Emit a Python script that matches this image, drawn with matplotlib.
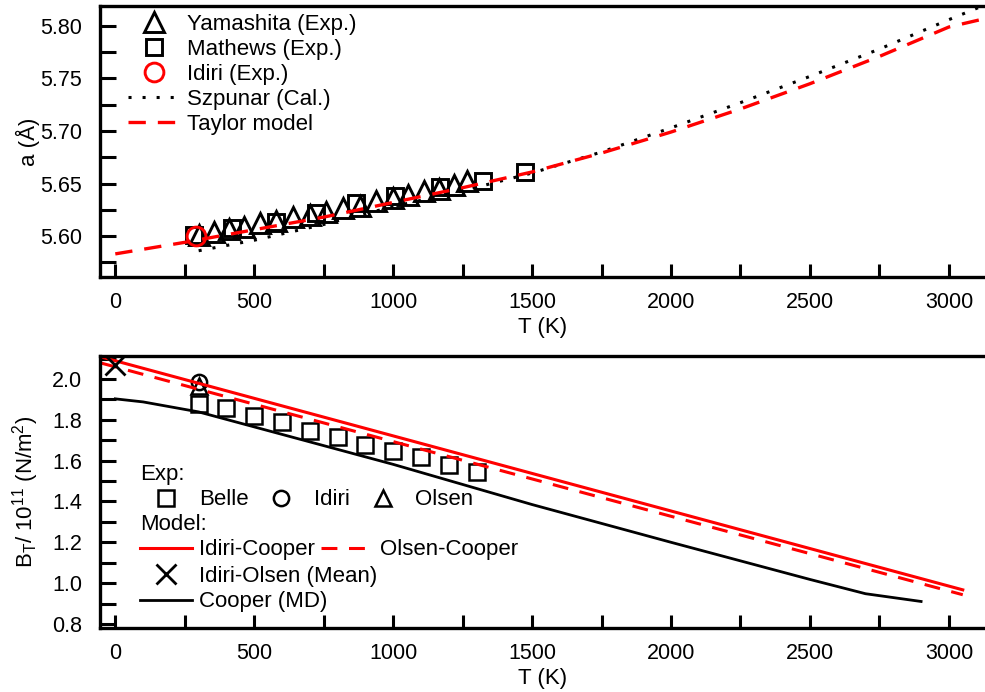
import numpy as np
import matplotlib
matplotlib.use("Agg")
import matplotlib.pyplot as plt
from matplotlib.ticker import MultipleLocator, FormatStrFormatter

plt.rcParams['font.family'] = ['Liberation Sans', 'DejaVu Sans']
plt.rcParams['mathtext.default'] = 'regular'

# ---- top panel data: lattice parameter a (Angstrom) vs T (K)
yam_T = [302, 355, 410, 465, 520, 580, 640, 700, 760, 820, 880, 940, 1000, 1055, 1110, 1165, 1220, 1264]
yam_a = [5.601, 5.604, 5.607, 5.609, 5.612, 5.614, 5.618, 5.620, 5.623, 5.627, 5.629, 5.633, 5.636, 5.639, 5.643, 5.645, 5.649, 5.652]
mat_T = [284, 421, 580, 724, 868, 1005, 1167, 1322, 1473]
mat_a = [5.601, 5.608, 5.613, 5.622, 5.631, 5.638, 5.647, 5.652, 5.661]
idi_T = [292]
idi_a = [5.600]
szp_T = [300, 500, 750, 1000, 1250, 1500, 1750, 2000, 2250, 2500, 2750, 3000, 3130]
szp_a = [5.586, 5.596, 5.611, 5.628, 5.643, 5.660, 5.680, 5.703, 5.727, 5.752, 5.778, 5.806, 5.820]
tay_T = [0, 250, 500, 750, 1000, 1250, 1500, 1750, 2000, 2250, 2500, 2750, 3000, 3130]
tay_a = [5.583, 5.594, 5.606, 5.618, 5.632, 5.646, 5.661, 5.679, 5.699, 5.721, 5.745, 5.771, 5.799, 5.807]

# ---- bottom panel data: bulk modulus B_T / 1e11 (N/m2) vs T (K)
belle_T = [300, 400, 500, 600, 700, 800, 900, 1000, 1100, 1200, 1300]
belle_B = [1.878, 1.857, 1.817, 1.788, 1.747, 1.717, 1.676, 1.648, 1.616, 1.578, 1.545]
idiri_T = [300]
idiri_B = [1.985]
olsen_T = [300]
olsen_B = [1.965]
icoop_T = [-50, 3050]
icoop_B = [2.108, 0.967]
ocoop_T = [-50, 3050]
ocoop_B = [2.078, 0.943]
mean_T = [0]
mean_B = [2.07]
coop_T = [0, 100, 300, 1000, 1500, 2000, 2500, 2700, 2900]
coop_B = [1.903, 1.888, 1.839, 1.582, 1.385, 1.200, 1.018, 0.948, 0.910]

FS = 16      # legend / label text
TFS = 15.5   # tick labels
W, H = 985, 692
fig = plt.figure(figsize=(W / 100, H / 100), dpi=100)
ax1 = fig.add_axes([100 / W, 1 - 277 / H, 1 - 100 / W, (277 - 6) / H])
ax2 = fig.add_axes([100 / W, 1 - 628 / H, 1 - 100 / W, (628 - 356) / H])

red = '#ff0000'

# top panel
ax1.plot(yam_T, yam_a, ls='none', marker='^', ms=15, mfc='none', mec='black', mew=2.1,
         label='Yamashita (Exp.)')
ax1.plot(mat_T, mat_a, ls='none', marker='s', ms=12, mfc='none', mec='black', mew=2.1,
         label='Mathews (Exp.)')
ax1.plot(idi_T, idi_a, ls='none', marker='o', ms=13.5, mfc='none', mec=red, mew=2.1,
         label='Idiri (Exp.)')
ax1.plot(szp_T, szp_a, color='black', lw=2.2, ls=(0, (1, 3.6)), label='Szpunar (Cal.)')
ax1.plot(tay_T, tay_a, color=red, lw=2.4, ls=(0, (5.2, 3.6)), label='Taylor model')

ax1.set_xlim(-55, 3130)
ax1.set_ylim(5.561, 5.819)
ax1.xaxis.set_major_locator(MultipleLocator(500))
ax1.xaxis.set_minor_locator(MultipleLocator(250))
ax1.yaxis.set_major_locator(MultipleLocator(0.05))
ax1.yaxis.set_minor_locator(MultipleLocator(0.025))
ax1.yaxis.set_major_formatter(FormatStrFormatter('%.2f'))
ax1.set_xlabel('T (K)', fontsize=FS, labelpad=3)
ax1.set_ylabel('a (Å)', fontsize=FS, labelpad=0)
ax1.legend(loc='upper left', bbox_to_anchor=(128 / W, 1 - 14 / H), bbox_transform=fig.transFigure,
           frameon=False, fontsize=FS, borderpad=0, borderaxespad=0, handlelength=2.35,
           handletextpad=0.3, labelspacing=0.18)

# bottom panel
h_belle, = ax2.plot(belle_T, belle_B, ls='none', marker='s', ms=11, mfc='none', mec='black', mew=1.8)
h_idiri, = ax2.plot(idiri_T, idiri_B, ls='none', marker='o', ms=11, mfc='none', mec='black', mew=1.8)
h_olsen, = ax2.plot(olsen_T, olsen_B, ls='none', marker='^', ms=12, mfc='none', mec='black', mew=1.8)
h_icoop, = ax2.plot(icoop_T, icoop_B, color=red, lw=2.2)
h_ocoop, = ax2.plot(ocoop_T, ocoop_B, color=red, lw=2.2, ls=(0, (5.2, 3.8)))
h_mean, = ax2.plot(mean_T, mean_B, ls='none', marker='x', ms=15, mec='black', mew=2.0)
h_coop, = ax2.plot(coop_T, coop_B, color='black', lw=2.0)

ax2.set_xlim(-55, 3130)
ax2.set_ylim(0.78, 2.113)
ax2.xaxis.set_major_locator(MultipleLocator(500))
ax2.xaxis.set_minor_locator(MultipleLocator(250))
ax2.yaxis.set_major_locator(MultipleLocator(0.2))
ax2.yaxis.set_minor_locator(MultipleLocator(0.1))
ax2.yaxis.set_major_formatter(FormatStrFormatter('%.1f'))
ax2.set_xlabel('T (K)', fontsize=FS, labelpad=3)
ax2.set_ylabel('B$_T$/ 10$^{11}$ (N/m$^2$)', fontsize=FS, labelpad=8)

leg_kw = dict(frameon=False, fontsize=FS, title_fontsize=FS, borderpad=0, borderaxespad=0,
              handlelength=2.35, handletextpad=0.3, labelspacing=0.2, columnspacing=0.3,
              alignment='left', bbox_transform=fig.transFigure, loc='upper left')
lg1 = ax2.legend([h_belle, h_idiri, h_olsen], ['Belle', 'Idiri', 'Olsen'], ncol=3, title='Exp:',
                 bbox_to_anchor=(140 / W, 1 - 464 / H), **leg_kw)
ax2.add_artist(lg1)
lg2 = ax2.legend([h_icoop, h_ocoop], ['Idiri-Cooper', 'Olsen-Cooper'], ncol=2, title='Model:',
                 bbox_to_anchor=(140 / W, 1 - 514 / H), **leg_kw)
ax2.add_artist(lg2)
ax2.legend([h_mean, h_coop], ['Idiri-Olsen (Mean)', 'Cooper (MD)'],
           bbox_to_anchor=(140 / W, 1 - 566 / H), **leg_kw)

for ax in (ax1, ax2):
    ax.spines['right'].set_visible(False)
    for s in ('left', 'bottom', 'top'):
        ax.spines[s].set_linewidth(2.4)
    ax.tick_params(axis='both', which='both', direction='in', width=2.2, labelsize=TFS)
    ax.tick_params(axis='y', which='both', length=11.5, pad=13)
    ax.tick_params(axis='x', which='both', length=9.5, pad=11)

fig.savefig('out.png', dpi=100)
